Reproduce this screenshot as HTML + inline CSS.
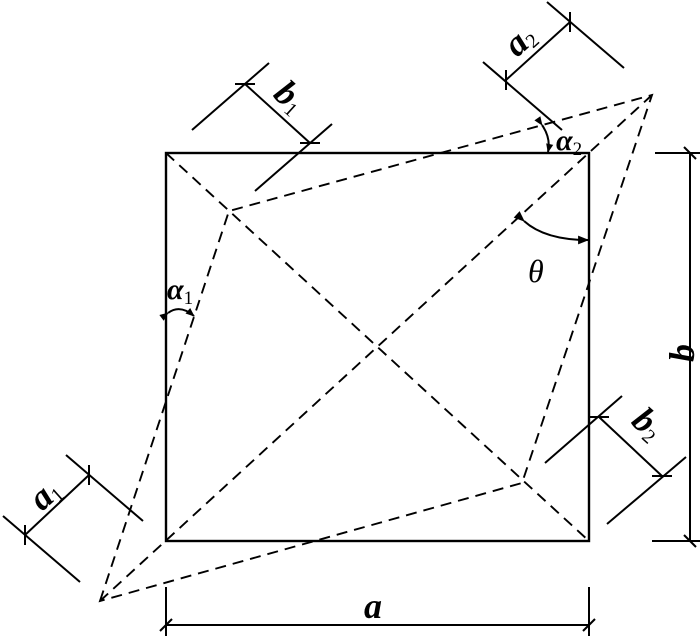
<!DOCTYPE html>
<html><head><meta charset="utf-8"><style>html,body{margin:0;padding:0;background:#fff}svg{display:block}</style></head>
<body>
<svg width="700" height="638" viewBox="0 0 700 638" xmlns="http://www.w3.org/2000/svg">
<defs>
<marker id="ar" viewBox="0 0 10 10" refX="9" refY="5" markerWidth="11" markerHeight="9" orient="auto" markerUnits="userSpaceOnUse"><path d="M0,1 L10,5 L0,9 Z" fill="#000"/></marker>
<marker id="ar2" viewBox="0 0 10 10" refX="9" refY="5" markerWidth="16" markerHeight="11" orient="auto" markerUnits="userSpaceOnUse"><path d="M0,1 L10,5 L0,9 Z" fill="#000"/></marker>
</defs>
<g stroke="#000" stroke-width="2.4" fill="none">
<rect x="166" y="153" width="423" height="388"/>
</g>
<g stroke="#000" stroke-width="1.9" fill="none" stroke-dasharray="11,7">
<line x1="166" y1="153" x2="589" y2="541"/>
<line x1="100" y1="601" x2="652" y2="95"/>
<polygon points="100,601 229,211 652,95 522,483"/>
</g>
<g stroke="#000" stroke-width="2" fill="none">
<line x1="3" y1="516" x2="80" y2="582"/>
<line x1="66" y1="455" x2="143" y2="521"/>
<line x1="25" y1="535" x2="89" y2="475"/>
<line x1="25" y1="525" x2="25" y2="545"/><line x1="89" y1="465" x2="89" y2="485"/>
<line x1="483" y1="62" x2="562" y2="130"/>
<line x1="547" y1="2" x2="624" y2="68"/>
<line x1="506" y1="80" x2="570" y2="22"/>
<line x1="506" y1="70" x2="506" y2="90"/><line x1="570" y1="12" x2="570" y2="32"/>
<line x1="192" y1="130" x2="269" y2="63"/>
<line x1="255" y1="191" x2="332" y2="124"/>
<line x1="245" y1="84" x2="310" y2="143"/>
<line x1="235" y1="84" x2="255" y2="84"/><line x1="300" y1="143" x2="320" y2="143"/>
<line x1="545" y1="463" x2="622" y2="396"/>
<line x1="607" y1="524" x2="686" y2="457"/>
<line x1="599" y1="417" x2="662" y2="476"/>
<line x1="589" y1="417" x2="609" y2="417"/><line x1="652" y1="476" x2="672" y2="476"/>
<line x1="690" y1="153" x2="690" y2="541"/>
<line x1="655" y1="153" x2="700" y2="153"/>
<line x1="652" y1="541" x2="700" y2="541"/>
<line x1="684" y1="147" x2="696" y2="159"/><line x1="684" y1="535" x2="696" y2="547"/>
<line x1="166" y1="625" x2="589" y2="625"/>
<line x1="166" y1="587" x2="166" y2="636"/>
<line x1="589" y1="587" x2="589" y2="636"/>
<line x1="160" y1="631" x2="172" y2="619"/><line x1="583" y1="631" x2="595" y2="619"/>
<path d="M524,221 Q545,240 588,240" marker-start="url(#ar2)" marker-end="url(#ar2)"/>
<path d="M168,313 Q180,304 194,316" marker-start="url(#ar)" marker-end="url(#ar)"/>
<path d="M542,125 Q551,138 548,152" marker-start="url(#ar)" marker-end="url(#ar)"/>
</g>
<g font-family="Liberation Serif, serif" font-style="italic" font-weight="bold" fill="#000">
<text x="364" y="618" font-size="36">a</text>
<text x="666" y="362" font-size="36" transform="rotate(-90 680 348)">b</text>
<text x="528" y="282" font-size="32" font-weight="normal">θ</text>
<text x="167" y="299" font-size="30">α<tspan font-size="19" font-style="normal" font-weight="normal" dy="5">1</tspan></text>
<text x="556" y="150" font-size="30">α<tspan font-size="19" font-style="normal" font-weight="normal" dy="5">2</tspan></text>
<text transform="translate(42,512) rotate(-42)" font-size="36">a<tspan font-size="20" dy="4" font-style="normal" font-weight="normal">1</tspan></text>
<text transform="translate(517,58) rotate(-42)" font-size="36">a<tspan font-size="20" dy="4" font-style="normal" font-weight="normal">2</tspan></text>
<text transform="translate(272,96) rotate(42)" font-size="36">b<tspan font-size="20" dy="4" font-style="normal" font-weight="normal">1</tspan></text>
<text transform="translate(630,423) rotate(42)" font-size="36">b<tspan font-size="20" dy="4" font-style="normal" font-weight="normal">2</tspan></text>
</g>
</svg>
</body></html>
